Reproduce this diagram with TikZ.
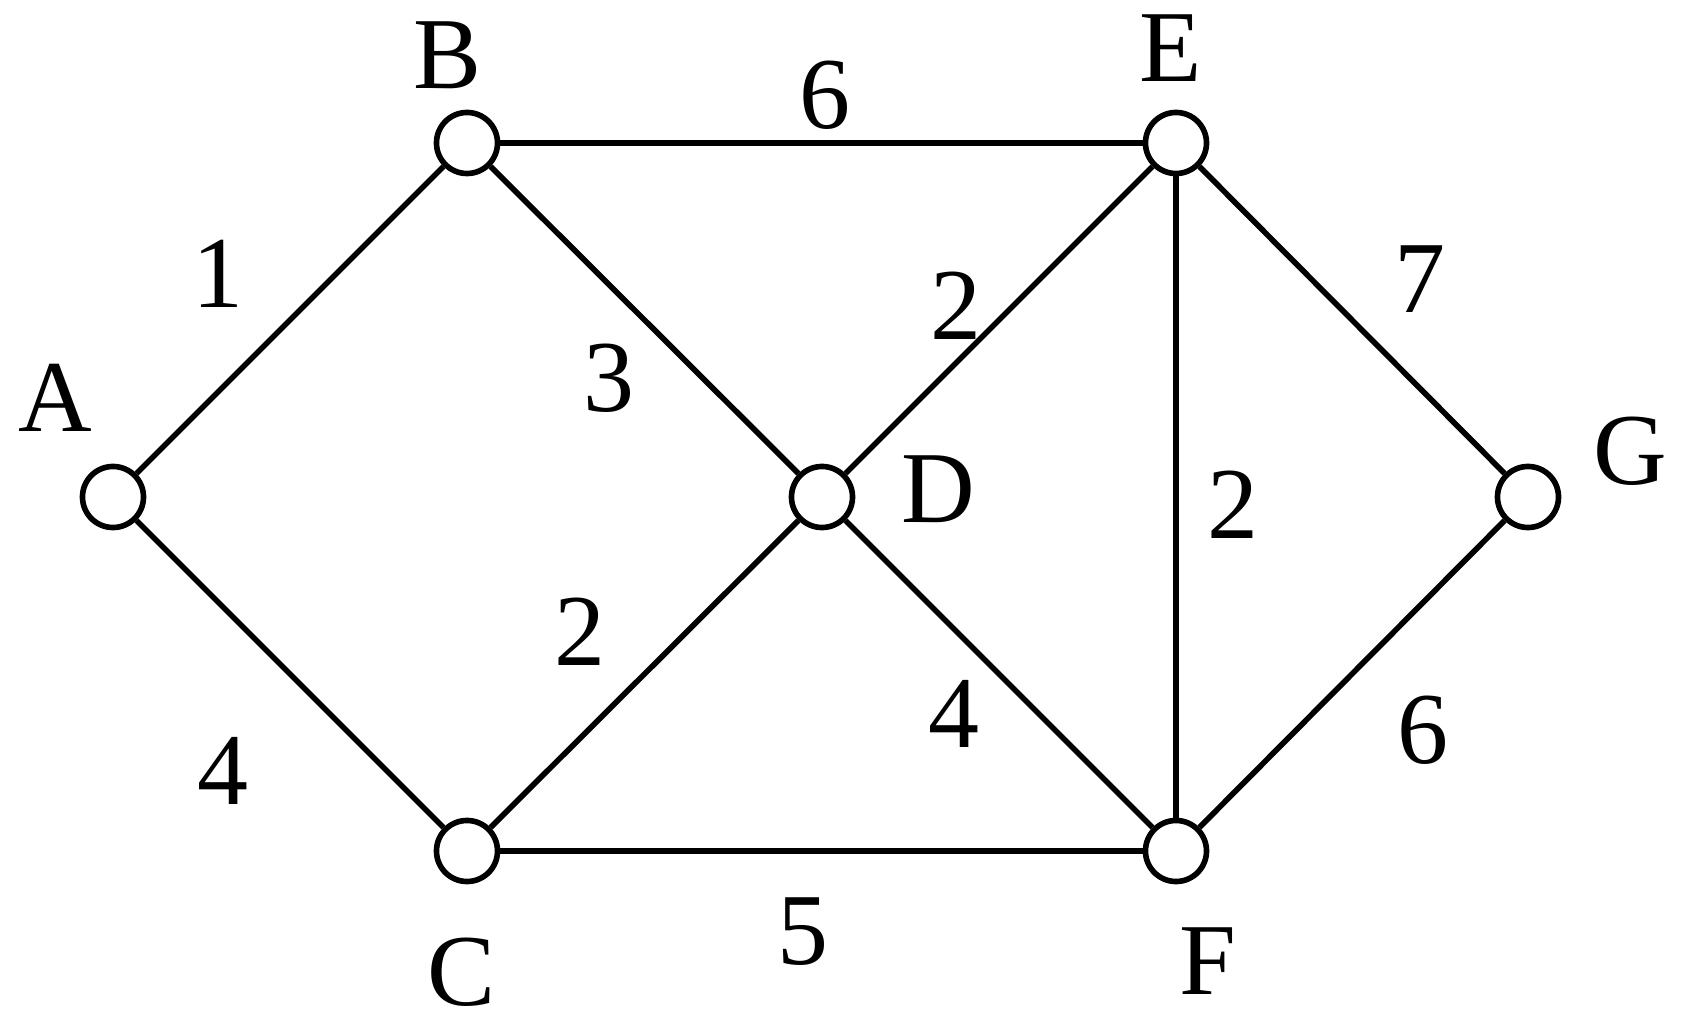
\documentclass[tikz,border=0pt]{standalone}
\usepackage{fontspec}
\newfontfamily\labelfont{Liberation Serif}
\usepackage{tikz}

\begin{document}
\begin{tikzpicture}[
    x=0.01cm, y=-0.01cm,
    every node/.style={font=\labelfont\fontsize{29}{34}\selectfont},
    vertex/.style={circle, draw, line width=1.6pt, fill=white,
      minimum size=0.61cm, inner sep=0pt},
    edge/.style={line width=1.6pt},
  ]
    \useasboundingbox (0, 0) rectangle (1684, 1022);

    % 顶点
    \node[vertex] (A) at (113, 497)  {};
    \node[vertex] (B) at (467, 143)  {};
    \node[vertex] (C) at (467, 851)  {};
    \node[vertex] (D) at (822, 497)  {};
    \node[vertex] (E) at (1176, 143) {};
    \node[vertex] (F) at (1176, 851) {};
    \node[vertex] (G) at (1528, 497) {};

    % 顶点名称
    \node (lA) at (55, 398)   {A};
    \node (lB) at (448, 55)   {B};
    \node (lC) at (462, 972)  {C};
    \node (lD) at (938, 489)  {D};
    \node (lE) at (1171, 48)  {E};
    \node (lF) at (1208, 961) {F};
    \node (lG) at (1630, 451) {G};

    % 边
    \foreach \u/\v in {A/B, A/C, B/E, B/D, C/D, C/F, D/E, D/F, E/F, E/G, F/G} {
      \draw[edge] (\u) -- (\v);
    }

    % 权值
    \node (wAB) at (218, 274)  {1};
    \node (wAC) at (223, 771)  {4};
    \node (wBE) at (825, 95)   {6};
    \node (wBD) at (609, 378)  {3};
    \node (wDE) at (956, 306)  {2};
    \node (wCD) at (580, 632)  {2};
    \node (wDF) at (954, 714)  {4};
    \node (wEF) at (1233, 505) {2};
    \node (wEG) at (1420, 279) {7};
    \node (wFG) at (1423, 730) {6};
    \node (wCF) at (803, 932)  {5};
  \end{tikzpicture}
\end{document}
